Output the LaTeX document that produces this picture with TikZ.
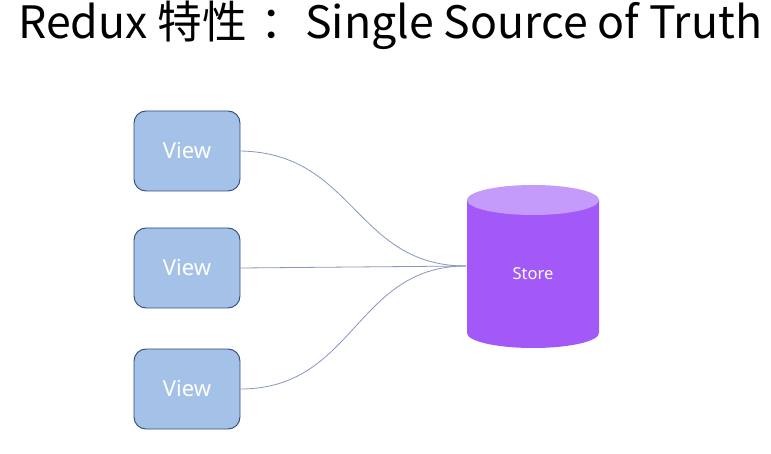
\documentclass[tikz,border=0pt]{standalone}
\usepackage{fontspec}
\setmainfont{Noto Sans}
\newfontfamily\cjk{Noto Sans CJK SC}
\definecolor{viewfill}{HTML}{A4C2E8}
\definecolor{viewdraw}{HTML}{2E4A7A}
\definecolor{storefill}{HTML}{A259F7}
\definecolor{storetop}{HTML}{C49BFA}
\definecolor{linkcol}{HTML}{8797BE}
\begin{document}
\begin{tikzpicture}[x=1pt,y=-1pt,
  viewbox/.style={draw=viewdraw, line width=0.9pt, fill=viewfill, rounded corners=12pt,
    minimum width=106pt, minimum height=80pt, inner sep=0pt, text=white, font=\fontsize{22}{26}\selectfont},
  link/.style={draw=linkcol, line width=0.8pt}]
\useasboundingbox (0,0) rectangle (771,454);
\fill[white] (0,0) rectangle (771,454);
\node[anchor=west, inner sep=0pt] (title) at (18,25)
  {\resizebox{744pt}{!}{\cjk\fontsize{40}{48}\selectfont Redux 特性\hspace{0.3em}：Single Source of Truth}};
\node[viewbox] (v1) at (187,151) {View};
\node[viewbox] (v2) at (187,268) {View};
\node[viewbox] (v3) at (187,389) {View};
% cylinder
\fill[storefill] (467,200) -- (467,333) arc[start angle=180, end angle=360, x radius=66pt, y radius=15pt] -- (599,200) -- cycle;
\fill[storetop] (533,200) ellipse[x radius=66pt, y radius=15pt];
\node[text=white, font=\fontsize{16.5}{20}\selectfont] (store) at (533,274) {Store};
\coordinate (sw) at (466,266);
\draw[link] (v1.east) .. controls (355,153) and (355,266) .. (sw);
\draw[link] (v2.east) -- (sw);
\draw[link] (v3.east) .. controls (355,389) and (355,266) .. (sw);
\end{tikzpicture}
\end{document}
